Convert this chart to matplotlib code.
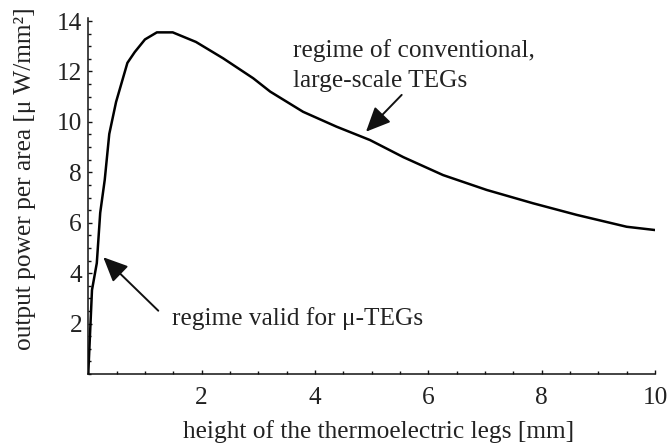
import matplotlib
matplotlib.use("Agg")
import matplotlib.pyplot as plt
from matplotlib.ticker import MultipleLocator, FixedLocator

plt.rcParams['font.family'] = ['Liberation Serif', 'DejaVu Serif']

# output power per unit area vs. leg height
leg_height_mm = [0.0, 0.065, 0.15, 0.21, 0.29, 0.37, 0.49, 0.69, 0.82, 1.0,
                 1.21, 1.49, 1.90, 2.38, 2.91, 3.21, 3.79, 4.38, 4.97, 5.56,
                 6.26, 7.03, 7.85, 8.62, 9.5, 10.0]
power_uW_mm2 = [0.04, 3.33, 4.4, 6.39, 7.70, 9.52, 10.79, 12.34, 12.77, 13.27,
                13.55, 13.55, 13.17, 12.52, 11.73, 11.2, 10.40, 9.81, 9.28, 8.6,
                7.89, 7.30, 6.77, 6.31, 5.84, 5.71]

x_ticks = [2, 4, 6, 8, 10]
y_ticks = [2, 4, 6, 8, 10, 12, 14]

FS = 18.3

fig = plt.figure(figsize=(6.70, 4.47), dpi=100)
ax = fig.add_axes([88.3 / 670, 1 - 374 / 447, (655 - 88.3) / 670, (374 - 18) / 447])

ax.plot(leg_height_mm, power_uW_mm2, color='black', lw=1.8, solid_joinstyle='round')

ax.set_xlim(0, 10)
ax.set_ylim(0, 14.12)

for side in ('top', 'right'):
    ax.spines[side].set_visible(False)
for side in ('left', 'bottom'):
    ax.spines[side].set_linewidth(1.1)
    ax.spines[side].set_color('#111111')

ax.xaxis.set_major_locator(FixedLocator(x_ticks))
ax.yaxis.set_major_locator(FixedLocator(y_ticks))
ax.xaxis.set_minor_locator(MultipleLocator(0.5))
ax.yaxis.set_minor_locator(MultipleLocator(0.5))
ax.tick_params(which='both', direction='in', width=1.0, color='#111111',
               labelsize=FS, labelcolor='#222222')
ax.tick_params(which='major', length=3.0)
ax.tick_params(which='minor', length=2.0)
ax.tick_params(axis='x', which='major', pad=9.5)
ax.tick_params(axis='y', which='major', pad=4.5)

ax.set_xlabel('height of the thermoelectric legs [mm]', fontsize=FS,
              color='#222222', va='baseline')
ax.xaxis.set_label_coords(0.512, -0.1806)
ax.set_ylabel('output power per area [\u03bc W/mm\u00b2]', fontsize=FS,
              color='#222222', va='center')
ax.yaxis.set_label_coords(-0.1117, 0.549)

arrow_kw = dict(arrowstyle='-|>,head_length=0.75,head_width=0.34',
                color='#111111', lw=1.4, mutation_scale=20, shrinkA=0, shrinkB=0)

ax.annotate('', xy=(0.265, 4.63), xytext=(1.235, 2.51), arrowprops=arrow_kw)
ax.text(1.47, 1.94, 'regime valid for \u03bc-TEGs', fontsize=FS,
        color='#222222', ha='left', va='baseline')

ax.annotate('', xy=(4.90, 9.61), xytext=(5.53, 11.07), arrowprops=arrow_kw)
ax.text(3.62, 12.59, 'regime of conventional,', fontsize=FS,
        color='#222222', ha='left', va='baseline')
ax.text(3.62, 11.40, 'large-scale TEGs', fontsize=FS,
        color='#222222', ha='left', va='baseline')

fig.savefig('out.png', dpi=100)
